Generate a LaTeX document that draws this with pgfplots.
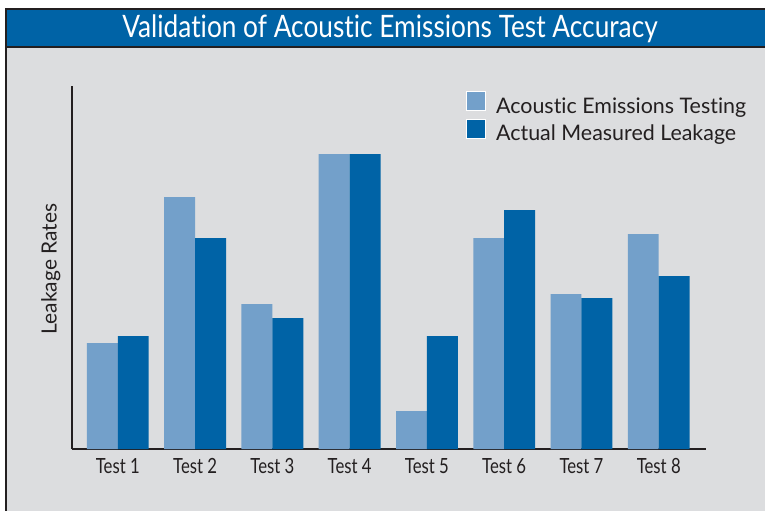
\documentclass[border=0pt]{standalone}
\usepackage{fontspec}
\setmainfont{Lato}[Ligatures={NoCommon}]
\newfontfamily\condfont{Lato}[FakeStretch=0.8, Ligatures={NoCommon}]
\newfontfamily\titlefont{Lato}[FakeStretch=0.85, Ligatures={NoCommon}]
\usepackage{pgfplots}
\pgfplotsset{compat=1.18}
\definecolor{bg}{HTML}{DCDDDF}
\definecolor{banner}{HTML}{0063A6}
\definecolor{lightb}{HTML}{73A0CA}
\definecolor{darkb}{HTML}{0063A6}
\definecolor{axcol}{HTML}{231F20}
\begin{document}
\begin{tikzpicture}[x=1bp,y=1bp]
\path[use as bounding box] (0,0) rectangle (765,-511);
\fill[white] (0,0) rectangle (765,-511);
\fill[bg] (6,-9) rectangle (775,-520);
\fill[banner] (6,-9) rectangle (775,-47);
\draw[axcol, line width=2.5bp] (6,-520) -- (6,-9) -- (775,-9);
\draw[axcol, line width=2bp] (6,-47) -- (775,-47);
\node[white, font=\titlefont\fontsize{31}{33}\selectfont] at (390,-29) {Validation of Acoustic Emissions Test Accuracy};
\begin{axis}[
  at={(93,-449)}, anchor=south west,
  scale only axis, width=634bp, height=363bp,
  xmin=-0.595, xmax=7.61, ymin=0, ymax=363,
  ybar=0pt, bar width=0.4,
  axis x line*=bottom, axis y line*=left,
  axis line style={axcol, line width=2bp, -},
  ytick=\empty,
  xtick=data,
  xticklabels={Test 1,Test 2,Test 3,Test 4,Test 5,Test 6,Test 7,Test 8},
  major tick length=0pt,
  xticklabel style={font=\condfont\fontsize{21}{22}\selectfont, text=axcol, anchor=base, yshift=-24bp},
  ylabel={Leakage Rates},
  ylabel style={at={(axis description cs:-0.033,0.496)}, anchor=center, font=\fontsize{21}{22}\selectfont, text=axcol},
  legend style={at={(rel axis cs:0.6215,0.986)}, anchor=north west, draw=none, fill=none, inner sep=0pt, column sep=10bp, row sep=0bp,
    nodes={inner sep=0pt, text height=15bp, text depth=5bp, font=\fontsize{21.5}{22}\selectfont, text=axcol}},
  legend cell align=left,
  legend image code/.code={\draw[#1, draw=white, line width=1bp] (0.5bp,-2.2bp) rectangle (19.5bp,16.8bp);},
]
\addplot[fill=lightb, draw=none] coordinates {(0,106) (1,252) (2,145) (3,295) (4,38) (5,211) (6,155) (7,215)};
\addplot[fill=darkb, draw=none] coordinates {(0,113) (1,211) (2,131) (3,295) (4,113) (5,239) (6,151) (7,173)};
\legend{Acoustic Emissions Testing, Actual Measured Leakage}
\end{axis}
\end{tikzpicture}
\end{document}
